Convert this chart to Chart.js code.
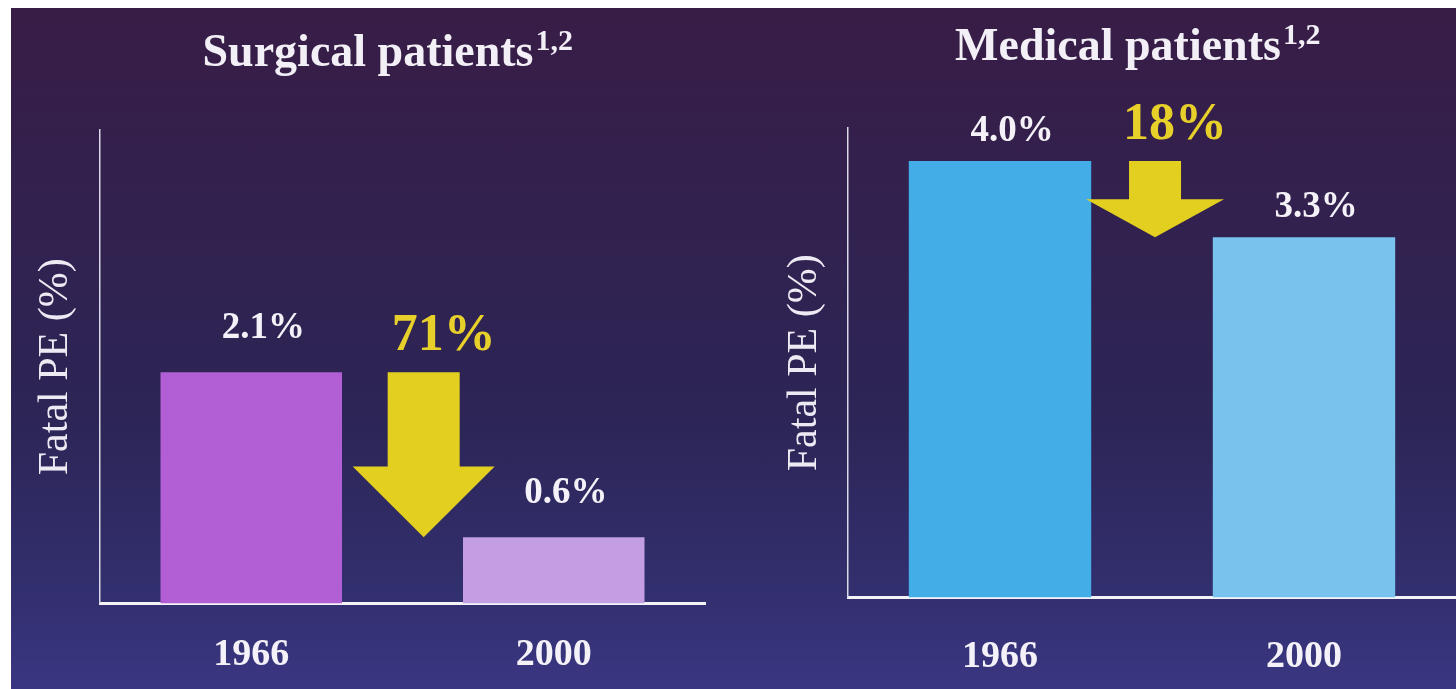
<!DOCTYPE html>
<html><head><meta charset="utf-8">
<script src="https://cdn.jsdelivr.net/npm/chart.js@4.4.1/dist/chart.umd.min.js"></script>
<style>
html,body{margin:0;padding:0;width:1456px;height:689px;overflow:hidden;background:#ffffff;}
#slide{position:absolute;left:11px;top:8px;right:0;bottom:0;
  background:linear-gradient(180deg,#381d46 0%,#32214f 30%,#2c2556 60%,#322f6e 85%,#3a3682 100%);}
#c1{position:absolute;left:10px;top:0;}
#c2{position:absolute;left:771px;top:0;}
</style></head>
<body>
<div id="slide"></div>
<canvas id="c1" width="728" height="689"></canvas>
<canvas id="c2" width="685" height="689"></canvas>
<script>
// ---- data ----
const categories = ['1966', '2000'];
const surgicalValues = [2.1, 0.6];
const medicalValues = [4.0, 3.3];
const surgicalDrop = '71%';
const medicalDrop = '18%';
const surgicalTitle = 'Surgical patients';
const medicalTitle = 'Medical patients';
const titleSup = '1,2';
const yAxisTitle = 'Fatal PE (%)';
const yMax = 4.3;

const SERIF = '"Liberation Serif", "Times New Roman", serif';

const annotPlugin = {
  id: 'annot',
  afterDraw(chart, args, opts) {
    const ctx = chart.ctx, xs = chart.scales.x, ys = chart.scales.y;
    const data = chart.data.datasets[0].data;
    ctx.save();
    // value labels
    ctx.font = 'bold 37px ' + SERIF;
    ctx.fillStyle = '#f4f2f8';
    ctx.textAlign = 'center';
    ctx.textBaseline = 'alphabetic';
    data.forEach((v, i) => {
      ctx.fillText(v.toFixed(1) + '%', xs.getPixelForValue(i) + 12, ys.getPixelForValue(v) - opts.labelGap);
    });
    // arrow
    const cx = xs.getPixelForValue(opts.at);
    const top = ys.getPixelForValue(data[0]);
    const tip = ys.getPixelForValue(data[1]);
    const headTop = tip - (tip - top) * opts.headFrac;
    const sw = opts.shaft / 2, hw = opts.head / 2;
    ctx.fillStyle = '#e3cf1f';
    ctx.beginPath();
    ctx.moveTo(cx - sw, top);
    ctx.lineTo(cx + sw, top);
    ctx.lineTo(cx + sw, headTop);
    ctx.lineTo(cx + hw, headTop);
    ctx.lineTo(cx, tip);
    ctx.lineTo(cx - hw, headTop);
    ctx.lineTo(cx - sw, headTop);
    ctx.closePath();
    ctx.fill();
    // drop percent
    ctx.font = 'bold 52px ' + SERIF;
    ctx.fillStyle = '#e8d02a';
    ctx.fillText(opts.drop, cx + 20, top - 22);
    // title superscript
    const t = chart.options.plugins.title;
    const tb = chart.titleBlock;
    const lh = t.font.size * 1.2;
    const ty = tb.top + t.padding.top + lh / 2;
    const tcx = (tb.left + tb.right) / 2;
    ctx.font = 'bold ' + t.font.size + 'px ' + SERIF;
    const w = ctx.measureText(t.text).width;
    ctx.font = 'bold 30px ' + SERIF;
    ctx.fillStyle = '#f2f0f6';
    ctx.textAlign = 'left';
    ctx.fillText(titleSup, tcx + w / 2 + 2, ty - 5);
    ctx.restore();
  }
};

function makeChart(id, cfg) {
  return new Chart(document.getElementById(id), {
    type: 'bar',
    data: {
      labels: categories,
      datasets: [{ data: cfg.values, backgroundColor: cfg.colors, borderWidth: 0,
        barPercentage: 0.6, categoryPercentage: 1.0 }]
    },
    options: {
      responsive: false, animation: false, devicePixelRatio: 1,
      layout: { padding: cfg.layout },
      plugins: {
        legend: { display: false },
        tooltip: { enabled: false },
        title: { display: true, text: cfg.title, color: '#f2f0f6',
          font: { family: SERIF, size: 46, weight: 'bold' }, padding: cfg.titlePad },
        annot: cfg.annot
      },
      scales: {
        x: {
          offset: true,
          grid: { display: true, drawOnChartArea: false, drawTicks: true, tickLength: cfg.tickLen, color: 'rgba(0,0,0,0)' },
          border: { display: true, color: '#f4f4f8', width: 3 },
          ticks: { color: '#f4f2f8', padding: 4, font: { family: SERIF, size: 38, weight: 'bold' } }
        },
        y: {
          min: 0, max: yMax,
          grid: { display: false, drawTicks: false },
          border: { display: true, color: '#d9d8e6', width: 1.5 },
          ticks: { display: false },
          title: { display: true, text: yAxisTitle, color: '#eeeaf4',
            font: { family: SERIF, size: 42, weight: 'normal' }, padding: { top: 0, bottom: cfg.yTitlePadB } }
        }
      }
    },
    plugins: [annotPlugin]
  });
}

makeChart('c1', {
  values: surgicalValues,
  colors: ['#b25ed5', '#c39ee3'],
  title: surgicalTitle,
  titlePad: { top: 27, bottom: 48 },
  layout: { left: 21, right: 33, top: 0, bottom: 7 },
  tickLen: 25,
  yTitlePadB: 18.6,
  annot: { drop: surgicalDrop, at: 0.57, shaft: 72, head: 142, headFrac: 0.43, labelGap: 34 }
});

makeChart('c2', {
  values: medicalValues,
  colors: ['#42ade6', '#78c2ee'],
  title: medicalTitle,
  titlePad: { top: 21, bottom: 52 },
  layout: { left: 9, right: 0, top: 0, bottom: 5 },
  tickLen: 33,
  yTitlePadB: 17.6,
  annot: { drop: medicalDrop, at: 0.51, shaft: 52, head: 138, headFrac: 0.5, labelGap: 20 }
});
</script>
</body></html>
